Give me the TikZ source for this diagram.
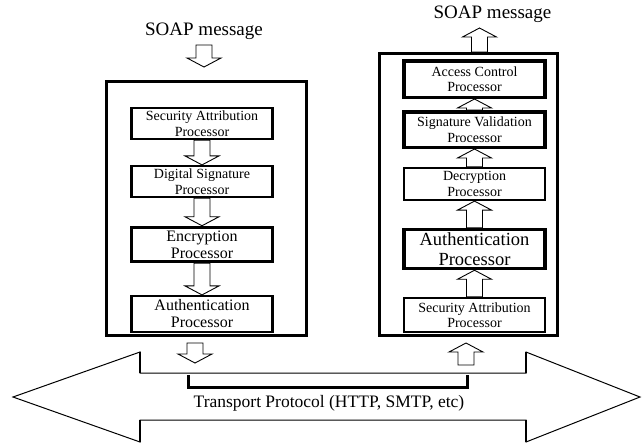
\documentclass[tikz,border=0pt]{standalone}
\usepackage{fontspec}
\setmainfont{Liberation Serif}
\usetikzlibrary{calc, positioning}

\tikzset{
  hollow down/.style={line width=0.9pt, to path={let \p1=(\tikztostart), \p2=(\tikztotarget) in
    (\x1-8pt,\y1) -- (\x1-8pt,\y2+9pt) -- (\x1-17pt,\y2+9pt) -- (\x1,\y2)
    -- (\x1+17pt,\y2+9pt) -- (\x1+8pt,\y2+9pt) -- (\x1+8pt,\y1) -- cycle}},
  hollow up/.style={line width=0.9pt, to path={let \p1=(\tikztostart), \p2=(\tikztotarget) in
    (\x1-8pt,\y1) -- (\x1-8pt,\y2-9pt) -- (\x1-17pt,\y2-9pt) -- (\x1,\y2)
    -- (\x1+17pt,\y2-9pt) -- (\x1+8pt,\y2-9pt) -- (\x1+8pt,\y1) -- cycle}}
}

\begin{document}
\begin{tikzpicture}[x=1pt, y=-1pt, on grid,
    panel/.style={draw, line width=3pt, inner sep=0pt},
    proc/.style={draw, line width=2.2pt, align=center, inner sep=0pt, minimum width=141pt},
    heavy/.style={line width=3.5pt},
    ptext/.style={font=\fontsize{14}{15.5}\selectfont},
    pmid/.style={font=\fontsize{16}{17}\selectfont},
    pbig/.style={font=\fontsize{18.5}{19.5}\selectfont},
    msg/.style={font=\fontsize{19}{21}\selectfont, anchor=base}]
    \useasboundingbox (0,0) rectangle (642,445);

    % sender side
    \node[panel, minimum width=200pt, minimum height=254pt] (lpanel) at (206.5,208.5) {};
    \node[msg] (lmsg) at (204,35) {SOAP message};
    \node[proc, ptext, minimum height=31pt] (lsa) at (202,123.5) {Security Attribution\\Processor};
    \node[proc, ptext, minimum height=31pt] (lds) [below=58pt of lsa] {Digital Signature\\Processor};
    \node[proc, heavy, pmid, minimum height=34pt] (lenc) [below=63pt of lds] {Encryption\\Processor};
    \node[proc, pmid, minimum height=36pt] (lauth) [below=69.5pt of lenc] {Authentication\\Processor};

    \draw[hollow down] ([yshift=-10pt]lmsg.base) to ([yshift=13pt]lpanel.north);
    \draw[hollow down] (lsa.south) to (lds.north);
    \draw[hollow down] (lds.south) to (lenc.north);
    \draw[hollow down] (lenc.south) to (lauth.north);

    % receiver side
    \node[panel, minimum width=178pt, minimum height=282pt] (rpanel) at (468.5,194.5) {};
    \node[msg] (rmsg) at (492.5,18) {SOAP message};
    \node[proc, heavy, ptext, minimum height=36.5pt] (rac) at (474.5,79) {Access Control\\Processor};
    \node[proc, heavy, ptext, minimum height=35.5pt] (rsv) [below=50.5pt of rac] {Signature Validation\\Processor};
    \node[proc, ptext, minimum height=32pt] (rdec) [below=54.5pt of rsv] {Decryption\\Processor};
    \node[proc, heavy, pbig, minimum height=39pt] (rauth) [below=65pt of rdec] {Authentication\\Processor};
    \node[proc, ptext, minimum height=34pt] (rsa) [below=66pt of rauth] {Security Attribution\\Processor};

    \draw[hollow up] (rsa.north) to (rauth.south);
    \draw[hollow up] (rauth.north) to (rdec.south);
    \draw[hollow up] (rdec.north) to (rsv.south);
    \draw[hollow up] (rsv.north) to (rac.south);
    \draw[hollow up] ([xshift=5pt]rpanel.north -| rac) to ([yshift=-10pt]rmsg.base);

    % transport
    \draw[line width=1pt] (13,397) -- (140,352) -- (140,373) -- (526,373) -- (526,352) -- (640,397)
        -- (526,442) -- (526,420) -- (140,420) -- (140,442) -- cycle;
    \draw[line width=2.5pt] (140,352) -- (140,373) (526,352) -- (526,373)
        (140,420) -- (140,442) (526,420) -- (526,442);
    \draw[line width=3pt] (188,375) -- (188,387) -- (467,387) -- (467,375);
    \node[font=\fontsize{17.5}{19}\selectfont] (transport) at (329,403) {Transport Protocol (HTTP, SMTP, etc)};

    \coordinate (lshaft) at (195,373);
    \coordinate (rshaft) at (466,373);
    \draw[hollow down] ([yshift=-6pt]lpanel.south -| lshaft) to ([yshift=10pt]lshaft);
    \draw[hollow up] ([yshift=8pt]rshaft) to ([yshift=-6pt]rpanel.south -| rshaft);
\end{tikzpicture}
\end{document}
